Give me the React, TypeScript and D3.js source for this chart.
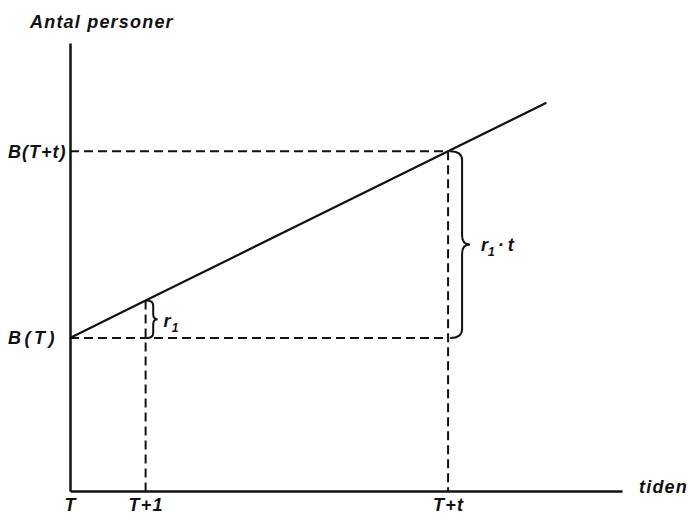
import { useEffect, useRef } from "react";
import * as d3 from "d3";

// time axis: T = 0, T+1 = 1, T+t = 5
const xTickValues = [0, 1, 5];
const xTickLabels = ["T", "T+1", "T+t"];

// population B at T and T+t (slope r1 = 1 per time unit)
const yTickValues = [4.1, 9.1];
const yTickLabels = ["B(T)", "B(T+t)"];

// the growth line
const lineX = [0, 1, 5, 6.3];
const lineY = [4.1, 5.1, 9.1, 10.4];

const xDomain = [0, 7.3];
const yDomain = [0, 12];

const FONT = "'Liberation Sans', Arial, sans-serif";

function bracePath(x: number, y0: number, y1: number, w: number, r: number) {
  const ym = (y0 + y1) / 2;
  const xb = x + w * 0.6;
  return [
    `M${x},${y0}`,
    `Q${xb},${y0} ${xb},${y0 + r}`,
    `L${xb},${ym - r}`,
    `Q${xb},${ym} ${x + w},${ym}`,
    `Q${xb},${ym} ${xb},${ym + r}`,
    `L${xb},${y1 - r}`,
    `Q${xb},${y1} ${x},${y1}`,
  ].join(" ");
}

export default function App() {
  const ref = useRef<SVGSVGElement | null>(null);

  useEffect(() => {
    const svg = d3.select(ref.current);
    svg.selectAll("*").remove();

    const x = d3.scaleLinear().domain(xDomain).range([70, 622]);
    const y = d3.scaleLinear().domain(yDomain).range([491, 43]);

    const g = svg.append("g");

    // dashed guides
    const dash = "9,5";
    yTickValues.forEach((v) => {
      g.append("line")
        .attr("x1", x(0))
        .attr("x2", x(5))
        .attr("y1", y(v))
        .attr("y2", y(v))
        .attr("stroke", "#111")
        .attr("stroke-width", 2)
        .attr("stroke-dasharray", dash);
    });
    [1, 5].forEach((v) => {
      const i = lineX.indexOf(v);
      g.append("line")
        .attr("x1", x(v))
        .attr("x2", x(v))
        .attr("y1", y(lineY[i]))
        .attr("y2", y(0))
        .attr("stroke", "#111")
        .attr("stroke-width", 2)
        .attr("stroke-dasharray", dash);
    });

    // growth line
    const line = d3
      .line<number>()
      .x((d) => x(d))
      .y((_, i) => y(lineY[i]));
    g.append("path")
      .attr("d", line(lineX))
      .attr("fill", "none")
      .attr("stroke", "#111")
      .attr("stroke-width", 2.2);

    const styleText = (sel: any, size: number) =>
      sel
        .attr("font-family", FONT)
        .attr("font-size", size)
        .attr("font-weight", "bold")
        .attr("font-style", "italic")
        .attr("letter-spacing", 1.2)
        .attr("fill", "#111");

    // axes
    const xAxis = g
      .append("g")
      .attr("transform", `translate(0,${y(0)})`)
      .call(
        d3
          .axisBottom(x)
          .tickValues(xTickValues)
          .tickFormat((_, i) => xTickLabels[i])
          .tickSize(0)
          .tickPadding(7)
      );
    xAxis.select(".domain").attr("stroke", "#111").attr("stroke-width", 2.5);
    styleText(xAxis.selectAll("text"), 18);

    const yAxis = g
      .append("g")
      .attr("transform", `translate(${x(0)},0)`)
      .call(
        d3
          .axisLeft(y)
          .tickValues(yTickValues)
          .tickFormat((_, i) => yTickLabels[i])
          .tickSize(0)
          .tickPadding(6)
      );
    yAxis.select(".domain").attr("stroke", "#111").attr("stroke-width", 2.5);
    styleText(yAxis.selectAll("text"), 18)
      .attr("text-anchor", "start")
      .attr("x", 8 - x(0))
      .attr("letter-spacing", (_: any, i: number) => (i === 0 ? 3.5 : 1));

    // braces
    g.append("path")
      .attr("d", bracePath(x(1) + 1, y(lineY[1]), y(yTickValues[0]), 11, 5))
      .attr("fill", "none")
      .attr("stroke", "#111")
      .attr("stroke-width", 2);
    g.append("path")
      .attr("d", bracePath(x(5) + 2, y(yTickValues[1]), y(yTickValues[0]), 20, 9))
      .attr("fill", "none")
      .attr("stroke", "#111")
      .attr("stroke-width", 2);

    const label = (tx: number, ty: number, size: number) =>
      styleText(g.append("text").attr("x", tx).attr("y", ty), size);

    const r1 = label(x(1) + 18, (y(lineY[1]) + y(yTickValues[0])) / 2 + 8, 18);
    r1.append("tspan").text("r");
    r1.append("tspan").attr("dy", 5).attr("font-size", 12).text("1");

    const r1t = label(x(5) + 33, (y(yTickValues[1]) + y(yTickValues[0])) / 2 + 6, 18)
      .attr("letter-spacing", 0);
    r1t.append("tspan").text("r");
    r1t.append("tspan").attr("dy", 5).attr("font-size", 12).text("1");
    r1t.append("tspan").attr("dy", -5).attr("dx", 3).text("·");
    r1t.append("tspan").attr("dx", 4).text("t");

    label(30, 28, 18).text("Antal personer");
    label(639, 493, 18).text("tiden");
  }, []);

  return (
    <svg
      ref={ref}
      width={693}
      height={520}
      style={{ position: "absolute", left: 0, top: 0, background: "#fff" }}
    />
  );
}
